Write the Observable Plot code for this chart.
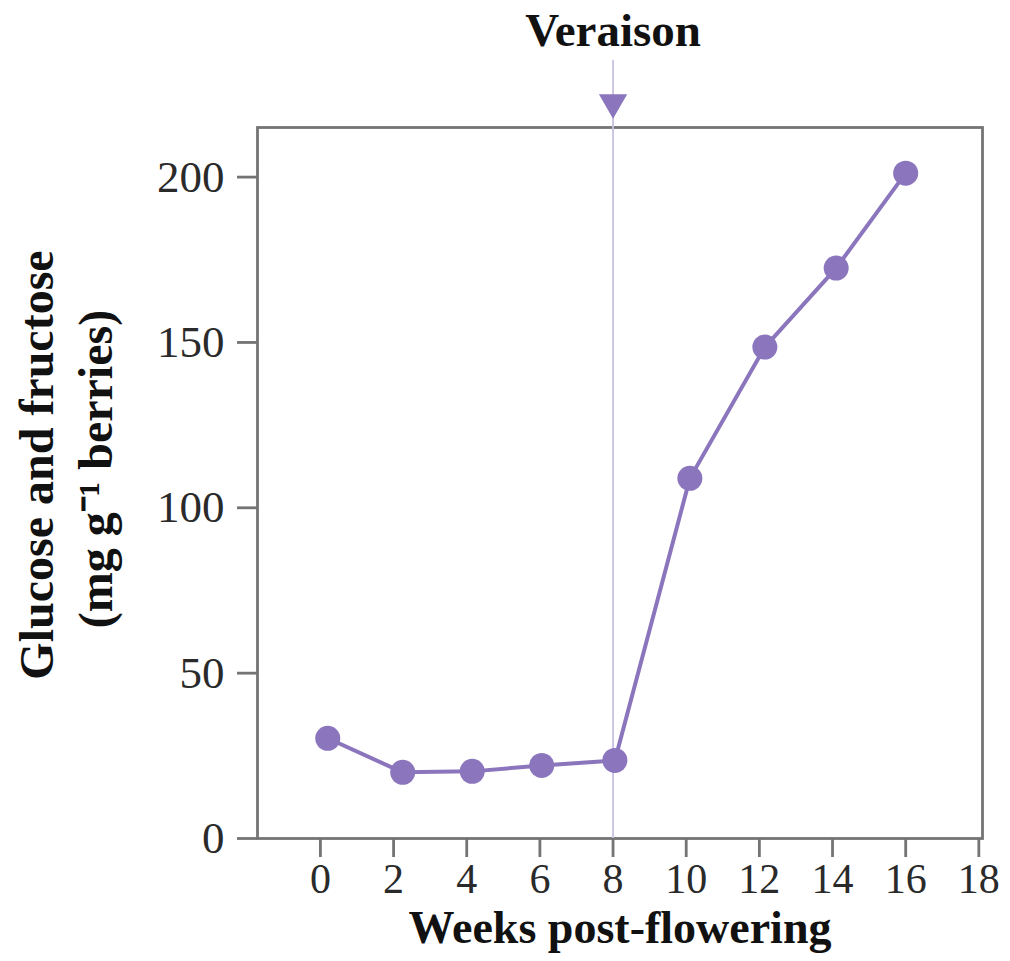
<!DOCTYPE html>
<html>
<head>
<meta charset="utf-8">
<script src="https://cdn.jsdelivr.net/npm/d3@7"></script>
<script src="https://cdn.jsdelivr.net/npm/@observablehq/plot@0.6"></script>
<style>
  html, body { margin: 0; padding: 0; background: #fff; }
  #chart svg { display: block; }
</style>
</head>
<body>
<div id="chart"></div>
<script>
// Data
const weeks = [0.2, 2.25, 4.15, 6.05, 8.05, 10.1, 12.15, 14.1, 16.0];
const sugar = [30.3, 20.0, 20.3, 22.1, 23.6, 108.9, 148.6, 172.5, 201.2];
const xTicks = [0, 2, 4, 6, 8, 10, 12, 14, 16, 18];
const yTicks = [0, 50, 100, 150, 200];
const veraisonWeek = [8];
const veraisonLabel = "Veraison";
const xLabel = "Weeks post-flowering";
const yLabelLine1 = "Glucose and fructose";
const yLabelLine2 = "(mg g\u207B\u00B9 berries)";

const data = weeks.map((w, i) => ({week: w, value: sugar[i]}));

const purple = "#8b76bd";
const axisGray = "#747474";

const chart = Plot.plot({
  width: 1010,
  height: 961,
  marginLeft: 257,
  marginRight: 28,
  marginTop: 127,
  marginBottom: 123,
  style: {fontFamily: "'Liberation Serif', serif", fontSize: "43px", color: "#2a2a2a", background: "#fff"},
  x: {domain: [-1.72, 18.1], ticks: xTicks, label: null},
  y: {domain: [0, 215], ticks: yTicks, label: null},
  marks: [
    Plot.frame({stroke: axisGray, strokeWidth: 2.8}),
    Plot.axisX({ticks: xTicks, tickSize: 19, tickPadding: 6, stroke: axisGray, strokeWidth: 2.8, fontSize: 42, fill: "#2a2a2a"}),
    Plot.axisY({ticks: yTicks, tickSize: 20, tickPadding: 13, stroke: axisGray, strokeWidth: 2.8, fontSize: 45, fill: "#2a2a2a"}),
    Plot.ruleX(veraisonWeek, {stroke: "#c9c0e2", strokeWidth: 1.8, insetTop: -67}),
    Plot.dot(veraisonWeek, {x: d => d, frameAnchor: "top", dy: -25, symbol: "triangle", r: 10.5, rotate: 180, fill: purple, stroke: "none"}),
    Plot.text(veraisonWeek, {x: d => d, text: () => veraisonLabel, frameAnchor: "top", lineAnchor: "middle", textAnchor: "middle", dy: -97, fontWeight: "bold", fontSize: 47, fill: "#111"}),
    Plot.line(data, {x: "week", y: "value", stroke: purple, strokeWidth: 4}),
    Plot.dot(data, {x: "week", y: "value", r: 12.5, fill: purple, stroke: "none"}),
    Plot.text([xLabel], {text: d => d, frameAnchor: "bottom", lineAnchor: "middle", textAnchor: "middle", dy: 90, fontWeight: "bold", fontSize: 46, fill: "#111"}),
    Plot.text([yLabelLine1], {text: d => d, frameAnchor: "left", lineAnchor: "middle", textAnchor: "middle", dx: -220, dy: -18, rotate: -90, fontWeight: "bold", fontSize: 48, fill: "#111"}),
    Plot.text([yLabelLine2], {text: d => d, frameAnchor: "left", lineAnchor: "middle", textAnchor: "middle", dx: -161, dy: -14, rotate: -90, fontWeight: "bold", fontSize: 48, fill: "#111"})
  ]
});
document.getElementById("chart").appendChild(chart);
</script>
</body>
</html>
